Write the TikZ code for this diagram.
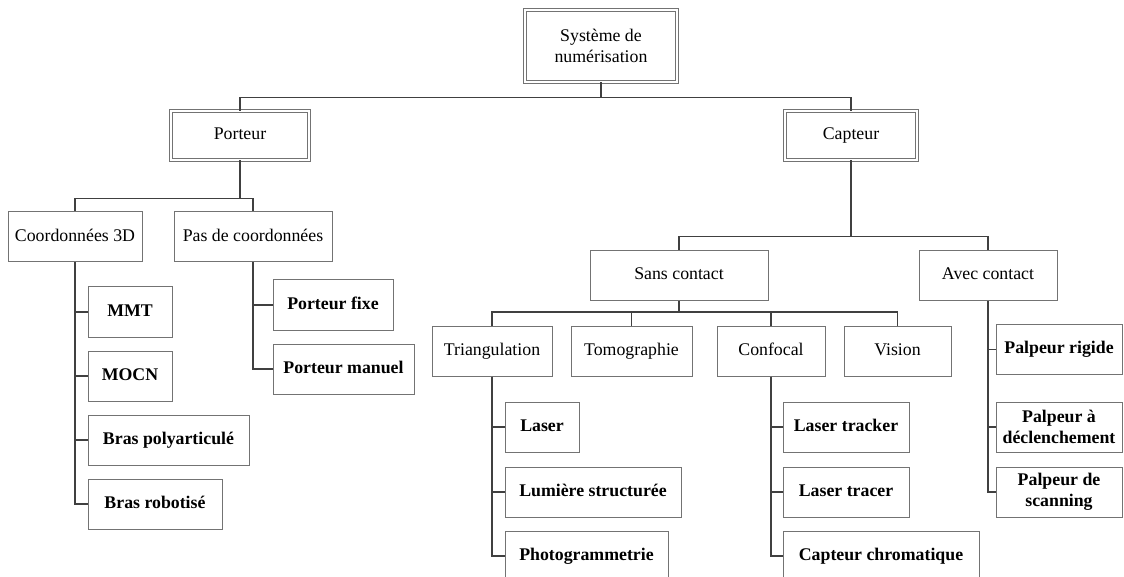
\documentclass[tikz,border=0pt]{standalone}
\usepackage{fontspec}
\setmainfont{Liberation Serif}
\usetikzlibrary{positioning}

\begin{document}
\begin{tikzpicture}[x=0.5pt,y=-0.5pt,node distance=6.5pt]
      \tikzstyle{cell}=[draw=black!55,line width=0.5pt,minimum height=25pt,inner sep=0pt,align=center,font=\fontsize{8.9}{10.5}\selectfont]
      \tikzstyle{box}=[cell,text height=6.2pt,text depth=1.9pt]
      \tikzstyle{leaf}=[box,font=\fontsize{8.9}{10.5}\selectfont\bfseries]
      \tikzstyle{leaftwo}=[cell,font=\fontsize{8.9}{10.5}\selectfont\bfseries]
      \tikzstyle{dbox}=[box,double,double distance=1pt,line width=0.4pt]
      \tikzstyle{link}=[black!75,line width=0.8pt]
      \useasboundingbox (0,0) rectangle (1124,577);
      \clip (0,0) rectangle (1124,577);
      \node[cell,double,double distance=1pt,line width=0.4pt,minimum width=76pt,minimum height=36pt] (root) at (601,46) {Système de\\numérisation};
      \node[dbox,minimum width=69pt,minimum height=24.5pt] (porteur) at (240,135.5) {Porteur};
      \node[dbox,minimum width=66pt,minimum height=24.5pt] (capteur) at (851,135.5) {Capteur};
      \node[box,minimum width=67pt] (coord) at (75,237) {Coordonnées 3D};
      \node[box,minimum width=79pt] (pas) at (253,237) {Pas de coordonnées};
      \node[leaf,minimum width=42pt] (mmt) at (130,312) {MMT};
      \node[leaf,minimum width=42pt,below=of mmt.south west,anchor=north west] (mocn) {MOCN};
      \node[leaf,minimum width=80.5pt,below=of mocn.south west,anchor=north west] (bpoly) {Bras polyarticulé};
      \node[leaf,minimum width=67pt,below=of bpoly.south west,anchor=north west] (brob) {Bras robotisé};
      \node[leaf,minimum width=60pt] (pfixe) at (333,305) {Porteur fixe};
      \node[leaf,minimum width=70.5pt,below=of pfixe.south west,anchor=north west] (pmanuel) {Porteur manuel};
      \node[box,minimum width=89pt] (sans) at (679,275.5) {Sans contact};
      \node[box,minimum width=69pt] (avec) at (988,275.5) {Avec contact};
      \node[box,minimum width=60pt] (tri) at (492,351) {Triangulation};
      \node[box,minimum width=60.5pt] (tomo) at (631.5,351) {Tomographie};
      \node[box,minimum width=54pt] (conf) at (771,351) {Confocal};
      \node[box,minimum width=53.5pt] (vision) at (897.5,351) {Vision};
      \node[leaf,minimum width=37pt] (laser) at (542,427) {Laser};
      \node[leaf,minimum width=88pt,below=7pt of laser.south west,anchor=north west] (lumiere) {Lumière structurée};
      \node[leaf,minimum width=81.5pt,below=of lumiere.south west,anchor=north west] (photo) {Photogrammetrie};
      \node[leaf,minimum width=63pt] (ltracker) at (846,427) {Laser tracker};
      \node[leaf,minimum width=63pt,below=7pt of ltracker.south west,anchor=north west] (ltracer) {Laser tracer};
      \node[leaf,minimum width=98pt,below=of ltracer.south west,anchor=north west] (chroma) {Capteur chromatique};
      \node[leaf,minimum width=63pt] (prigide) at (1059,349.5) {Palpeur rigide};
      \node[leaftwo,minimum width=63pt] (pdecl) at (1059,427) {Palpeur à\\déclenchement};
      \node[leaftwo,minimum width=63pt,below=7pt of pdecl.south west,anchor=north west] (pscan) {Palpeur de\\scanning};
      \draw[link] (root.south) -- +(0,15) -| (porteur.north);
      \draw[link] (root.south) -- +(0,15) -| (capteur.north);
      \draw[link] (porteur.south) -- +(0,38) -| (coord.north);
      \draw[link] (porteur.south) -- +(0,38) -| (pas.north);
      \draw[link] (capteur.south) -- +(0,76) -| (sans.north);
      \draw[link] (capteur.south) -- +(0,76) -| (avec.north);
      \draw[link] (sans.south) -- +(0,11) -| (tri.north);
      \draw[link] (sans.south) -- +(0,11) -| (tomo.north);
      \draw[link] (sans.south) -- +(0,11) -| (conf.north);
      \draw[link] (sans.south) -- +(0,11) -| (vision.north);
      \draw[link] (coord.south) |- (mmt.west);
      \draw[link] (coord.south) |- (mocn.west);
      \draw[link] (coord.south) |- (bpoly.west);
      \draw[link] (coord.south) |- (brob.west);
      \draw[link] (pas.south) |- (pfixe.west);
      \draw[link] (pas.south) |- (pmanuel.west);
      \draw[link] (tri.south) |- (laser.west);
      \draw[link] (tri.south) |- (lumiere.west);
      \draw[link] (tri.south) |- (photo.west);
      \draw[link] (conf.south) |- (ltracker.west);
      \draw[link] (conf.south) |- (ltracer.west);
      \draw[link] (conf.south) |- (chroma.west);
      \draw[link] (avec.south) |- (prigide.west);
      \draw[link] (avec.south) |- (pdecl.west);
      \draw[link] (avec.south) |- (pscan.west);
    \end{tikzpicture}
\end{document}
